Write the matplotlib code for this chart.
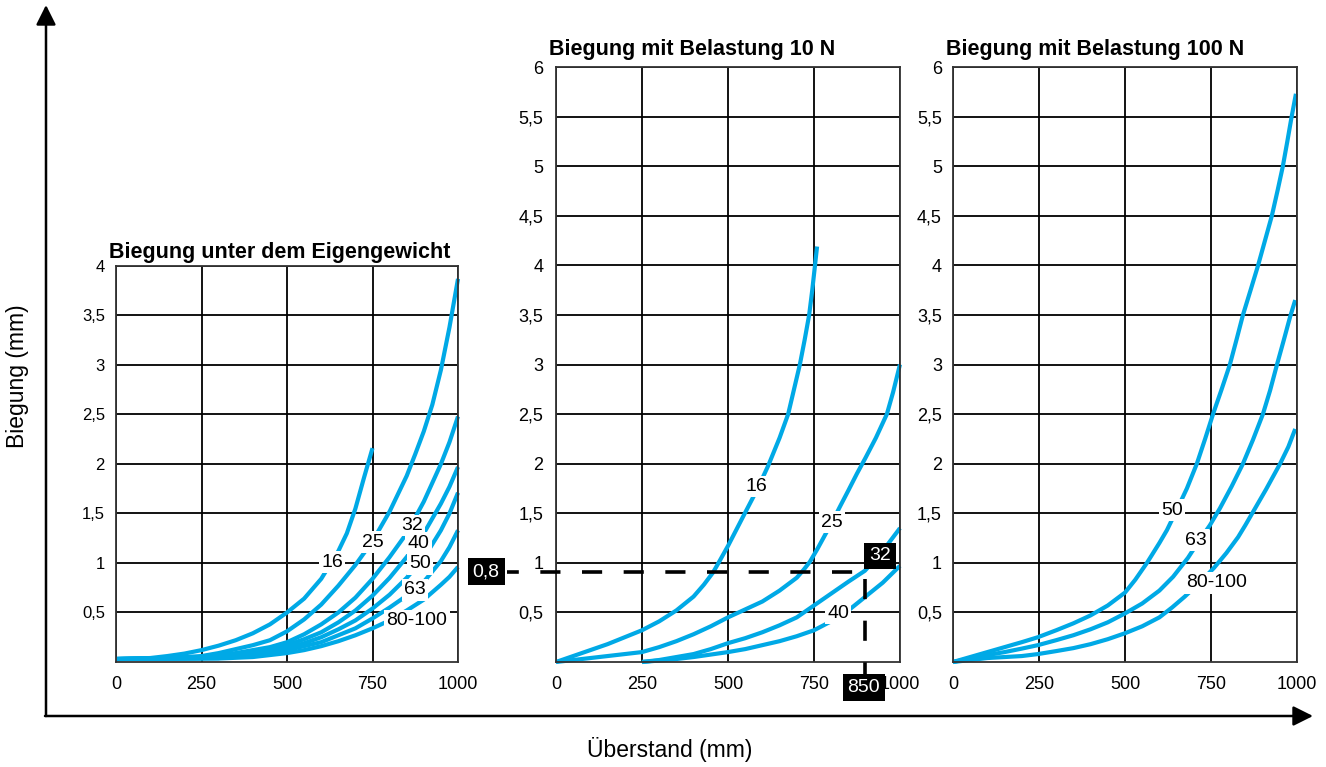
import matplotlib
matplotlib.use("Agg")
import matplotlib.pyplot as plt
from matplotlib.ticker import FuncFormatter

plt.rcParams['font.family'] = ['Liberation Sans', 'DejaVu Sans']
plt.rcParams['lines.scale_dashes'] = False

BLUE = '#00a9e6'

# --- Biegung unter dem Eigengewicht ---
p1_x16 = [0, 100, 150, 200, 250, 300, 350, 400, 450, 500, 550, 600, 650, 675, 700, 725, 750]
p1_y16 = [0.03, 0.04, 0.06, 0.085, 0.12, 0.165, 0.22, 0.29, 0.38, 0.5, 0.64, 0.84, 1.12, 1.3, 1.55, 1.86, 2.16]
p1_x25 = [0, 150, 250, 300, 350, 400, 450, 500, 550, 600, 650, 700, 750, 800, 850, 875, 900, 925, 950, 975, 1000]
p1_y25 = [0.03, 0.04, 0.06, 0.09, 0.13, 0.17, 0.22, 0.31, 0.43, 0.58, 0.77, 0.98, 1.22, 1.52, 1.88, 2.1, 2.33,
          2.6, 2.95, 3.38, 3.87]
p1_x32 = [0, 250, 300, 350, 400, 450, 500, 550, 600, 650, 700, 750, 800, 850, 900, 950, 975, 1000]
p1_y32 = [0.03, 0.05, 0.07, 0.09, 0.12, 0.15, 0.2, 0.28, 0.38, 0.5, 0.65, 0.84, 1.06, 1.3, 1.62, 2.0, 2.22, 2.48]
p1_x40 = [0, 250, 300, 350, 400, 450, 500, 550, 600, 650, 700, 750, 800, 850, 900, 950, 975, 1000]
p1_y40 = [0.03, 0.04, 0.05, 0.07, 0.1, 0.13, 0.17, 0.23, 0.3, 0.4, 0.52, 0.67, 0.85, 1.06, 1.3, 1.6, 1.77, 1.97]
p1_x50 = [0, 300, 400, 450, 500, 550, 600, 650, 700, 750, 800, 850, 900, 950, 975, 1000]
p1_y50 = [0.03, 0.04, 0.08, 0.1, 0.14, 0.19, 0.25, 0.33, 0.42, 0.54, 0.68, 0.85, 1.05, 1.33, 1.5, 1.71]
p1_x63 = [0, 300, 400, 450, 500, 550, 600, 650, 700, 750, 800, 850, 900, 950, 975, 1000]
p1_y63 = [0.03, 0.04, 0.07, 0.09, 0.12, 0.16, 0.2, 0.27, 0.34, 0.44, 0.55, 0.67, 0.81, 1.02, 1.16, 1.33]
p1_x80 = [0, 300, 400, 450, 500, 550, 600, 650, 700, 750, 800, 850, 900, 950, 975, 1000]
p1_y80 = [0.03, 0.035, 0.05, 0.07, 0.09, 0.12, 0.16, 0.21, 0.27, 0.34, 0.42, 0.52, 0.63, 0.78, 0.86, 0.96]
p1_labels = ['16', '25', '32', '40', '50', '63', '80-100']
p1_lab_x = [632, 752, 866, 884, 889, 875, 880]
p1_lab_y = [1.01, 1.21, 1.38, 1.2, 0.99, 0.73, 0.42]

# --- Biegung mit Belastung 10 N ---
p2_x16 = [0, 50, 100, 150, 200, 250, 300, 350, 400, 430, 456, 471, 500, 549, 585, 617, 650, 675, 692, 709, 723,
          736, 745, 753, 759]
p2_y16 = [0, 0.06, 0.12, 0.18, 0.25, 0.32, 0.41, 0.52, 0.66, 0.78, 0.9, 0.99, 1.17, 1.5, 1.74, 1.98, 2.26, 2.5,
          2.75, 3.0, 3.25, 3.5, 3.75, 4.0, 4.19]
p2_x25 = [0, 100, 150, 200, 250, 300, 350, 400, 450, 500, 550, 600, 650, 700, 720, 738, 760, 782, 804, 826, 850,
          875, 900, 930, 962, 980, 1000]
p2_y25 = [0, 0.04, 0.06, 0.08, 0.1, 0.15, 0.21, 0.28, 0.36, 0.45, 0.53, 0.61, 0.72, 0.85, 0.93, 1.01, 1.14, 1.28,
          1.42, 1.57, 1.73, 1.9, 2.06, 2.26, 2.5, 2.72, 3.0]
p2_x32 = [250, 300, 350, 400, 450, 500, 550, 600, 650, 700, 750, 800, 850, 898, 950, 1000]
p2_y32 = [0, 0.02, 0.05, 0.08, 0.13, 0.19, 0.24, 0.3, 0.37, 0.45, 0.57, 0.69, 0.81, 0.92, 1.12, 1.35]
p2_x40 = [250, 300, 350, 400, 450, 500, 550, 600, 650, 700, 750, 800, 850, 900, 950, 1000]
p2_y40 = [0, 0.015, 0.03, 0.05, 0.075, 0.1, 0.13, 0.17, 0.21, 0.26, 0.32, 0.41, 0.52, 0.66, 0.8, 0.97]
p2_labels = ['16', '25', '40']
p2_lab_x = [584, 802, 820]
p2_lab_y = [1.77, 1.41, 0.49]
guide_y = 0.91
guide_x = 898

# --- Biegung mit Belastung 100 N ---
p3_x50 = [0, 50, 100, 150, 200, 247, 300, 350, 400, 450, 500, 530, 564, 600, 622, 650, 680, 709, 733, 756, 780,
          805, 825, 843, 866, 887, 907, 927, 944, 959, 972, 983, 997]
p3_y50 = [0, 0.05, 0.1, 0.15, 0.2, 0.25, 0.32, 0.39, 0.47, 0.57, 0.7, 0.83, 1.0, 1.2, 1.33, 1.53, 1.75, 2.0, 2.25,
          2.5, 2.74, 3.0, 3.26, 3.5, 3.76, 4.0, 4.25, 4.5, 4.76, 5.0, 5.25, 5.47, 5.73]
p3_x63 = [0, 50, 100, 150, 200, 247, 300, 350, 400, 450, 500, 550, 600, 640, 683, 715, 747, 776, 810, 843, 872,
          901, 922, 942, 962, 980, 995]
p3_y63 = [0, 0.035, 0.07, 0.1, 0.135, 0.17, 0.22, 0.27, 0.33, 0.4, 0.49, 0.59, 0.72, 0.86, 1.05, 1.22, 1.38, 1.55,
          1.77, 2.0, 2.24, 2.5, 2.74, 3.0, 3.25, 3.48, 3.65]
p3_x80 = [0, 50, 100, 150, 200, 247, 300, 350, 400, 450, 500, 550, 600, 637, 674, 717, 759, 795, 829, 850, 870,
          910, 951, 975, 995]
p3_y80 = [0, 0.02, 0.04, 0.05, 0.06, 0.08, 0.11, 0.14, 0.18, 0.23, 0.29, 0.36, 0.45, 0.55, 0.66, 0.8, 0.95, 1.1,
          1.26, 1.38, 1.5, 1.74, 2.0, 2.17, 2.35]
p3_labels = ['50', '63', '80-100']
p3_lab_x = [637, 706, 767]
p3_lab_y = [1.53, 1.23, 0.8]

x_ticks = [0, 250, 500, 750, 1000]
y_ticks_small = [0.5, 1, 1.5, 2, 2.5, 3, 3.5, 4]
y_ticks_big = [0.5, 1, 1.5, 2, 2.5, 3, 3.5, 4, 4.5, 5, 5.5, 6]

comma = FuncFormatter(lambda v, p: ('%g' % v).replace('.', ','))

fig = plt.figure(figsize=(13.26, 7.67), dpi=100)
ax1 = fig.add_axes([0.0875, 0.1369, 0.2579, 0.5163])
ax2 = fig.add_axes([0.4193, 0.1369, 0.2594, 0.7757])
ax3 = fig.add_axes([0.7187, 0.1369, 0.2594, 0.7757])


def setup(ax, ymax, yticks, title, ysize, ypad, tpad):
    ax.set_xlim(0, 1000)
    ax.set_ylim(0, ymax)
    ax.set_xticks(x_ticks)
    ax.set_yticks(yticks)
    ax.yaxis.set_major_formatter(comma)
    ax.tick_params(axis='x', length=0, pad=10, labelsize=13)
    ax.tick_params(axis='y', length=0, pad=ypad, labelsize=ysize)
    ax.grid(True, color='black', lw=1.3)
    for s in ax.spines.values():
        s.set_color('#333333')
        s.set_linewidth(1.3)
    ax.annotate(title, xy=(0, 1), xycoords='axes fraction', xytext=(-5, tpad),
                textcoords='offset points', ha='left', va='baseline',
                fontsize=15.5, fontweight='bold')


def curve(ax, x, y):
    ax.plot(x, y, color=BLUE, lw=3, solid_capstyle='butt', solid_joinstyle='round',
            zorder=2.5, clip_on=False)


def tags(ax, xs, ys, names):
    for x, y, s in zip(xs, ys, names):
        ax.text(x, y, s, fontsize=14, ha='center', va='center', zorder=4,
                bbox=dict(boxstyle='square,pad=0.12', fc='white', ec='none'))


def black_tag(ax, x, y, s):
    ax.text(x, y, s, fontsize=14, color='white', ha='center', va='center',
            zorder=6, clip_on=False,
            bbox=dict(boxstyle='square,pad=0.25', fc='black', ec='none'))


setup(ax1, 4, y_ticks_small, 'Biegung unter dem Eigengewicht', 12, 8, 6)
setup(ax2, 6, y_ticks_big, 'Biegung mit Belastung 10 N', 13, 9, 9)
setup(ax3, 6, y_ticks_big, 'Biegung mit Belastung 100 N', 13, 8, 9)

for x, y in [(p1_x80, p1_y80), (p1_x63, p1_y63), (p1_x50, p1_y50), (p1_x40, p1_y40),
             (p1_x32, p1_y32), (p1_x25, p1_y25), (p1_x16, p1_y16)]:
    curve(ax1, x, y)
tags(ax1, p1_lab_x, p1_lab_y, p1_labels)

for x, y in [(p2_x16, p2_y16), (p2_x25, p2_y25), (p2_x32, p2_y32), (p2_x40, p2_y40)]:
    curve(ax2, x, y)
tags(ax2, p2_lab_x, p2_lab_y, p2_labels)

# reading example: 850 mm -> 0,8 mm
ax2.plot([-143, guide_x - 14], [guide_y, guide_y], color='black', lw=2.6,
         ls=(6, (14.5, 15.5)), clip_on=False, zorder=5)
ax2.plot([guide_x, guide_x], [guide_y - 0.07, -0.12], color='black', lw=2.6,
         ls=(0, (14.5, 15.5)), clip_on=False, zorder=5)
black_tag(ax2, -203, guide_y, '0,8')
black_tag(ax2, 942, 1.07, '32')
black_tag(ax2, 895, -0.26, '850')

for x, y in [(p3_x50, p3_y50), (p3_x63, p3_y63), (p3_x80, p3_y80)]:
    curve(ax3, x, y)
tags(ax3, p3_lab_x, p3_lab_y, p3_labels)

# big outer axes arrows
arrow = dict(arrowstyle='-|>,head_length=0.6,head_width=0.3', lw=1.8, color='black',
             mutation_scale=20, shrinkA=0, shrinkB=0)
fig.add_artist(plt.Annotation('', xy=(46 / 1326, 1 - 5 / 767), xytext=(46 / 1326, 1 - 716 / 767),
                              xycoords='figure fraction', textcoords='figure fraction',
                              arrowprops=arrow))
fig.add_artist(plt.Annotation('', xy=(1313 / 1326, 1 - 716 / 767), xytext=(45 / 1326, 1 - 716 / 767),
                              xycoords='figure fraction', textcoords='figure fraction',
                              arrowprops=arrow))

fig.text(18 / 1326, 1 - 376 / 767, 'Biegung (mm)', rotation=90, fontsize=16.5,
         ha='center', va='center')
fig.text(670 / 1326, 1 - 749 / 767, 'Überstand (mm)', fontsize=16.5, ha='center', va='center')

fig.savefig('out.png', dpi=100, facecolor='white')
